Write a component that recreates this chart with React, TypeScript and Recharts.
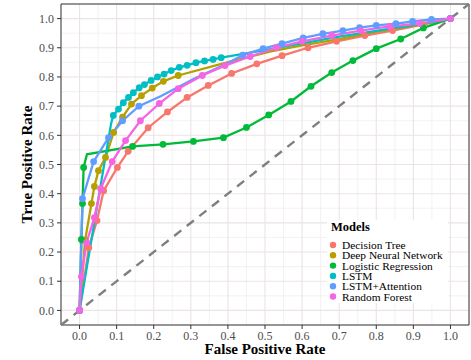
import { LineChart, Line, XAxis, YAxis, CartesianGrid, ReferenceLine, ReferenceArea, Legend } from "recharts";

// [fpr, tpr, marker shown (1) or not (0)]
type Pt = [number, number, number];

const decisionTree: Pt[] = [
  [0, 0, 1], [0.025, 0.215, 1], [0.047, 0.308, 1], [0.065, 0.41, 1], [0.102, 0.49, 1],
  [0.131, 0.545, 1], [0.185, 0.626, 1], [0.237, 0.68, 1], [0.29, 0.73, 1], [0.347, 0.771, 1],
  [0.41, 0.812, 1], [0.478, 0.845, 1], [0.546, 0.873, 1], [0.616, 0.9, 1], [0.693, 0.922, 1],
  [0.769, 0.942, 1], [0.844, 0.959, 1], [0.925, 0.979, 1], [1, 1, 1],
];

const deepNN: Pt[] = [
  [0, 0, 1], [0.015, 0.24, 1], [0.032, 0.366, 1], [0.04, 0.425, 1], [0.051, 0.479, 1],
  [0.07, 0.524, 1], [0.092, 0.61, 1], [0.116, 0.662, 1], [0.14, 0.707, 1], [0.167, 0.736, 1],
  [0.196, 0.762, 1], [0.226, 0.785, 1], [0.266, 0.805, 1], [0.385, 0.846, 0], [0.513, 0.887, 0],
  [0.6, 0.908, 0], [0.7, 0.93, 0], [0.8, 0.955, 0], [0.9, 0.975, 0], [1, 1, 1],
];

const logistic: Pt[] = [
  [0, 0, 1], [0.005, 0.243, 1], [0.008, 0.366, 1], [0.011, 0.49, 1], [0.02, 0.535, 0],
  [0.143, 0.562, 1], [0.225, 0.569, 1], [0.307, 0.579, 1], [0.388, 0.592, 1], [0.45, 0.627, 1],
  [0.51, 0.67, 1], [0.57, 0.716, 1], [0.624, 0.768, 1], [0.68, 0.815, 1], [0.737, 0.856, 1],
  [0.8, 0.897, 1], [0.866, 0.93, 1], [0.927, 0.968, 1], [1, 1, 1],
];

const lstm: Pt[] = [
  [0, 0, 1], [0.085, 0.64, 0], [0.091, 0.668, 1], [0.105, 0.69, 1], [0.118, 0.712, 1],
  [0.132, 0.73, 1], [0.145, 0.746, 1], [0.161, 0.763, 1], [0.175, 0.774, 1], [0.193, 0.788, 1],
  [0.21, 0.8, 1], [0.228, 0.81, 1], [0.247, 0.822, 1], [0.269, 0.833, 1], [0.29, 0.84, 1],
  [0.314, 0.849, 1], [0.337, 0.855, 1], [0.36, 0.86, 1], [0.382, 0.866, 1], [0.5, 0.892, 0],
  [0.6, 0.915, 0], [0.7, 0.938, 0], [0.8, 0.958, 0], [0.9, 0.978, 0], [1, 1, 1],
];

const lstmAttention: Pt[] = [
  [0, 0, 1], [0.008, 0.383, 1], [0.038, 0.51, 1], [0.078, 0.592, 1], [0.116, 0.65, 1],
  [0.16, 0.7, 1], [0.22, 0.735, 0], [0.31, 0.795, 0], [0.4, 0.848, 0], [0.44, 0.875, 1],
  [0.495, 0.897, 1], [0.546, 0.914, 1], [0.603, 0.934, 1], [0.656, 0.948, 1], [0.71, 0.959, 1],
  [0.755, 0.969, 1], [0.8, 0.977, 1], [0.853, 0.983, 1], [0.898, 0.99, 1], [0.949, 0.997, 1],
  [1, 1, 1],
];

const randomForest: Pt[] = [
  [0, 0, 1], [0.005, 0.116, 1], [0.019, 0.233, 1], [0.04, 0.318, 1], [0.057, 0.417, 1],
  [0.088, 0.51, 1], [0.124, 0.582, 1], [0.164, 0.65, 1], [0.215, 0.709, 1], [0.266, 0.76, 1],
  [0.331, 0.805, 1], [0.392, 0.839, 1], [0.46, 0.87, 1], [0.53, 0.9, 1], [0.6, 0.922, 1],
  [0.68, 0.942, 1], [0.758, 0.959, 1], [0.836, 0.973, 1], [0.917, 0.983, 1], [1, 1, 1],
];

const models = [
  { name: "Decision Tree", color: "#F8766D", pts: decisionTree },
  { name: "Deep Neural Network", color: "#B79F00", pts: deepNN },
  { name: "Logistic Regression", color: "#00BA38", pts: logistic },
  { name: "LSTM", color: "#00BFC4", pts: lstm },
  { name: "LSTM+Attention", color: "#619CFF", pts: lstmAttention },
  { name: "Random Forest", color: "#F564E3", pts: randomForest },
];

const majorTicks = [0, 0.1, 0.2, 0.3, 0.4, 0.5, 0.6, 0.7, 0.8, 0.9, 1.0];
const minorTicks = [-0.05, 0.05, 0.15, 0.25, 0.35, 0.45, 0.55, 0.65, 0.75, 0.85, 0.95, 1.05];

const serif = "Liberation Serif";

// legend drawn as svg so it uses the same text rendering as the axes
function ModelsLegend() {
  return (
    <svg width={121} height={83} style={{ display: "block" }}>
      <rect x={0} y={0} width={121} height={83} fill="#fff" />
      <text x={4} y={11} fontFamily={serif} fontWeight="bold" fontSize={12.5} fill="#000">
        Models
      </text>
      {models.map((m, i) => {
        const cy = 25 + i * 10.3;
        return (
          <g key={m.name}>
            <circle cx={6} cy={cy} r={3.2} fill={m.color} />
            <text x={15} y={cy + 4} fontFamily={serif} fontSize={11.4} fill="#000">
              {m.name}
            </text>
          </g>
        );
      })}
    </svg>
  );
}

export default function App() {
  return (
    <div style={{ position: "absolute", left: 0, top: 0, width: 471, height: 360, background: "#fff" }}>
      <LineChart width={471} height={360} margin={{ top: 4, right: 2, bottom: 0, left: 0 }}>
        <CartesianGrid
          stroke="#EEE8EA"
          strokeWidth={0.6}
          horizontalValues={minorTicks}
          verticalValues={minorTicks}
        />
        <CartesianGrid
          stroke="#EBE3E6"
          strokeWidth={1.1}
          horizontalValues={majorTicks}
          verticalValues={majorTicks}
        />
        <XAxis
          type="number"
          dataKey="x"
          domain={[-0.05, 1.05]}
          ticks={majorTicks}
          tickFormatter={(v: number) => v.toFixed(1)}
          allowDataOverflow
          height={35}
          axisLine={false}
          tickSize={4}
          tickMargin={2}
          tickLine={{ stroke: "#333" }}
          tick={{ fontSize: 12, fill: "#4D4D4D", fontFamily: serif }}
          label={{
            value: "False Positive Rate",
            position: "insideBottom",
            offset: 6,
            style: { fontSize: 15, fontWeight: "bold", fill: "#000", fontFamily: serif },
          }}
        />
        <YAxis
          type="number"
          dataKey="y"
          domain={[-0.05, 1.05]}
          ticks={majorTicks}
          tickFormatter={(v: number) => v.toFixed(1)}
          allowDataOverflow
          width={61}
          axisLine={false}
          tickSize={4}
          tickMargin={3}
          tickLine={{ stroke: "#333" }}
          tick={{ fontSize: 12, fill: "#4D4D4D", fontFamily: serif }}
          label={{
            value: "True Positive Rate",
            angle: -90,
            position: "insideLeft",
            offset: 27,
            style: { fontSize: 15, fontWeight: "bold", fill: "#000", fontFamily: serif, textAnchor: "middle" },
          }}
        />
        {models.map((m) => (
          <Line
            key={m.name}
            data={m.pts.map(([x, y, mk]) => ({ x, y, mk }))}
            dataKey="y"
            type="linear"
            stroke={m.color}
            strokeWidth={2.3}
            isAnimationActive={false}
            activeDot={false}
            dot={(p: any) =>
              p.payload.mk ? (
                <circle key={p.index} cx={p.cx} cy={p.cy} r={3.4} fill={m.color} />
              ) : (
                <g key={p.index} />
              )
            }
          />
        ))}
        <ReferenceLine
          segment={[{ x: -0.05, y: -0.05 }, { x: 1.05, y: 1.05 }]}
          stroke="#7F7F7F"
          strokeWidth={2.4}
          strokeDasharray="9 7"
        />
        <ReferenceArea x1={-0.05} x2={1.05} y1={-0.05} y2={1.05} fill="none" stroke="#333" strokeWidth={1} />
        <Legend
          layout="vertical"
          align="center"
          verticalAlign="middle"
          wrapperStyle={{ left: 327, top: 220, width: "auto" }}
          content={() => <ModelsLegend />}
        />
      </LineChart>
    </div>
  );
}
